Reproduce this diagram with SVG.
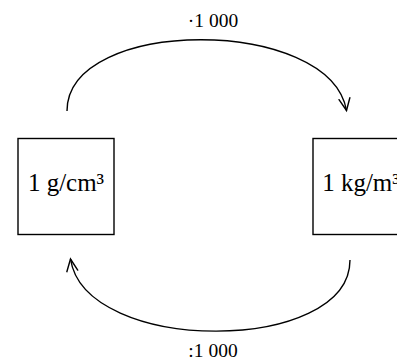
<svg xmlns="http://www.w3.org/2000/svg" width="397" height="362" viewBox="0 0 397 362">
<style>
.box{fill:#fff;stroke:#000;stroke-width:1.4}
.edge{fill:none;stroke:#000;stroke-width:1.4}
.lbl{font-family:"Liberation Serif","Times New Roman",serif;fill:#000;text-anchor:middle}
.node{font-size:25px}
.elbl{font-size:19.5px}
</style>
<defs>
<marker id="arr" markerUnits="userSpaceOnUse" markerWidth="20" markerHeight="20" refX="0" refY="0" orient="auto" overflow="visible" viewBox="-15 -10 20 20">
<path d="M-12,-5.5 L0,0 L-12,5.5" fill="none" stroke="#000" stroke-width="1.4" stroke-linecap="round" stroke-linejoin="miter"/>
</marker>
</defs>
<rect width="397" height="362" fill="#fff"/>
<g id="connectors">
<path class="edge" d="M67,111 C67,16 330,16 346.5,110.5" marker-end="url(#arr)"/>
<path class="edge" d="M350,260 C350,355 85,355 70.5,259" marker-end="url(#arr)"/>
<text class="lbl elbl" x="213" y="27">·1 000</text>
<text class="lbl elbl" x="213" y="357">:1 000</text>
</g>
<g id="node-gcm3">
<rect class="box" x="18" y="138.5" width="96" height="96"/>
<text class="lbl node" x="66" y="191">1 g/cm³</text>
</g>
<g id="node-kgm3">
<rect class="box" x="313" y="138.5" width="96" height="96"/>
<text class="lbl node" x="361" y="191">1 kg/m³</text>
</g>
</svg>
